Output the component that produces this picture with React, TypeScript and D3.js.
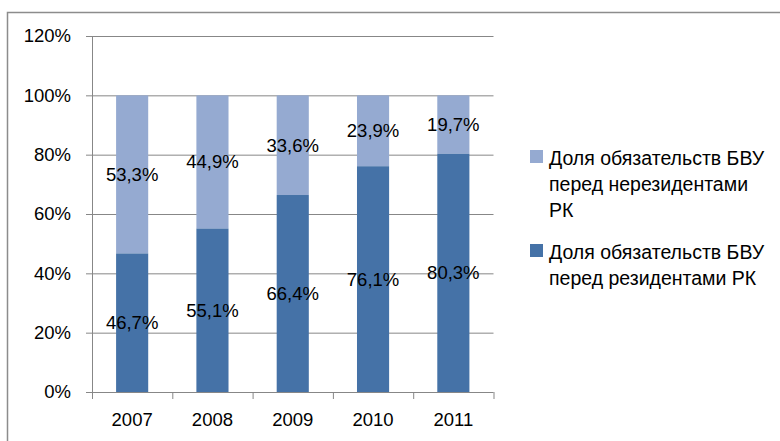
import React from "react";
import * as d3 from "d3";

const years = ["2007", "2008", "2009", "2010", "2011"];
const residents = [46.7, 55.1, 66.4, 76.1, 80.3];
const nonResidents = [53.3, 44.9, 33.6, 23.9, 19.7];
const yTicks = [0, 20, 40, 60, 80, 100, 120];
const legendNonRes = ["Доля обязательств БВУ", "перед нерезидентами", "РК"];
const legendRes = ["Доля обязательств БВУ", "перед резидентами РК"];

const W = 780;
const H = 441;
const LIGHT = "#95AAD1";
const DARK = "#4572A7";
const GRID = "#878787";
const FONT = "'Liberation Sans', Arial, sans-serif";
const FS = 18.5;
const LFS = 19.5;

export default function App() {
  const plotL = 92, plotR = 493.5, plotT = 36, plotB = 392;
  const x = d3.scaleBand<string>().domain(years).range([plotL, plotR]).paddingInner(0.6).paddingOuter(0.3);
  const y = d3.scaleLinear().domain([0, 120]).range([plotB, plotT]);
  const xb = d3.scaleBand<string>().domain(years).range([plotL, plotR]);
  const fmt = (v: number) => v.toFixed(1).replace(".", ",") + "%";

  return (
    <svg width={W} height={H} style={{ position: "absolute", left: 0, top: 0, background: "#fff" }} fontFamily={FONT}>
      <path d={`M7.5,${H + 5} V12.5 H${W + 5}`} fill="none" stroke="#8c8c8c" strokeWidth={1.5} />
      {yTicks.map((t) => (
        <g key={t}>
          {t > 0 && <line x1={plotL} x2={plotR} y1={y(t) + 0.5} y2={y(t) + 0.5} stroke={GRID} strokeWidth={1} />}
          <line x1={plotL - 6} x2={plotL} y1={y(t) + 0.5} y2={y(t) + 0.5} stroke={GRID} strokeWidth={1} />
          <text x={71} y={y(t)} dy="0.35em" textAnchor="end" fontSize={FS} fill="#000">{t}%</text>
        </g>
      ))}
      {years.map((yr, i) => {
        const bx = x(yr)!;
        const bw = x.bandwidth();
        const cx = bx + bw / 2;
        return (
          <g key={yr}>
            <rect x={bx} width={bw} y={y(100)} height={y(residents[i]) - y(100)} fill={LIGHT} />
            <rect x={bx} width={bw} y={y(residents[i])} height={y(0) - y(residents[i])} fill={DARK} />
            <text x={cx} y={y(residents[i] / 2)} dy="0.35em" textAnchor="middle" fontSize={FS} fill="#000">{fmt(residents[i])}</text>
            <text x={cx} y={y(residents[i] + nonResidents[i] / 2)} dy="0.35em" textAnchor="middle" fontSize={FS} fill="#000">{fmt(nonResidents[i])}</text>
            <text x={xb(yr)! + xb.bandwidth() / 2} y={420} dy="0.35em" textAnchor="middle" fontSize={FS} fill="#000">{yr}</text>
          </g>
        );
      })}
      <line x1={plotL + 0.5} x2={plotL + 0.5} y1={plotT} y2={plotB} stroke={GRID} strokeWidth={1} />
      <line x1={plotL} x2={plotR} y1={plotB + 0.5} y2={plotB + 0.5} stroke={GRID} strokeWidth={1} />
      {[...years.map((yr) => xb(yr)!), plotR].map((tx, i) => (
        <line key={i} x1={tx + 0.5} x2={tx + 0.5} y1={plotB} y2={plotB + 7} stroke={GRID} strokeWidth={1} />
      ))}
      <rect x={530} y={150} width={13} height={13} fill={LIGHT} />
      {legendNonRes.map((s, i) => (
        <text key={s} x={549} y={158 + i * 26} dy="0.35em" fontSize={LFS} fill="#000">{s}</text>
      ))}
      <rect x={530} y={244} width={13} height={13} fill={DARK} />
      {legendRes.map((s, i) => (
        <text key={s} x={549} y={252 + i * 26} dy="0.35em" fontSize={LFS} fill="#000">{s}</text>
      ))}
    </svg>
  );
}
